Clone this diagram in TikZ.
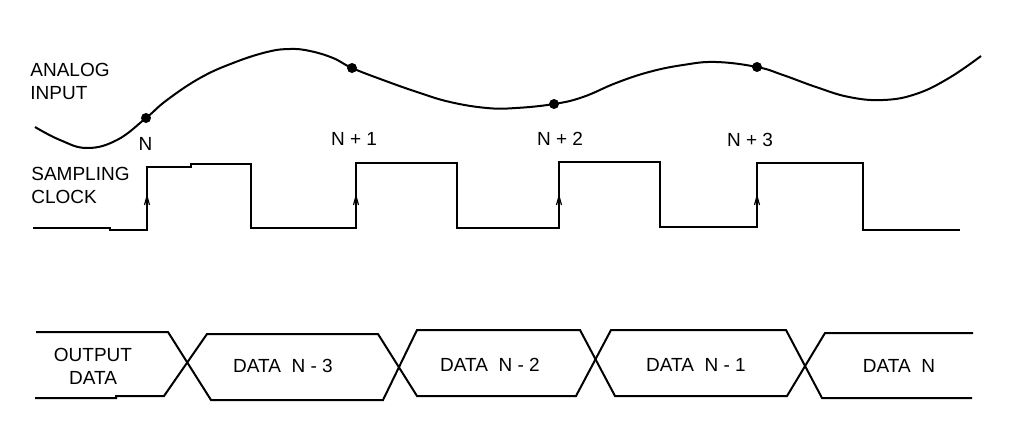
\documentclass[tikz,border=0pt]{standalone}
\usepackage{fontspec}
\setmainfont{Liberation Sans}
\begin{document}
\begin{tikzpicture}[x=0.5pt,y=-0.5pt,
  wave/.style={line width=1pt,line join=miter},
  lbl/.style={inner sep=0pt,font=\fontsize{9.5}{11.5}\selectfont},
  sdot/.style={fill=black,circle,inner sep=0pt,minimum size=5pt},
  edgemark/.style={line width=0.6pt}]
\useasboundingbox (0,0) rectangle (1036,445);
% analog input curve
\draw[wave] plot[smooth,tension=0.7] coordinates {(35,127) (60,140) (87,148) (117,140) (146,118) (167,100) (200,78) (233,63) (267,52) (290,49) (310,51) (333,58) (352,68) (383,80) (417,92) (450,102) (487,108) (516,108) (554,104) (583,97) (616,83) (649,72) (683,65) (716,62) (757,67) (783,75) (816,87) (849,97) (883,100) (916,94) (949,78) (981,56)};
\coordinate (s0) at (146,118);
\coordinate (s1) at (352,68);
\coordinate (s2) at (554,104);
\coordinate (s3) at (757,67);
\foreach \s in {s0,s1,s2,s3} \node[sdot] at (\s) {};
% labels
\node[lbl,anchor=west,align=left] (ain) at (30,81.5) {ANALOG\\INPUT};
\node[lbl,anchor=west,align=left] (sck) at (31,185.5) {SAMPLING\\CLOCK};
\node[lbl] (n0) at (145.5,143.5) {N};
\node[lbl] (n1) at (354,139) {N + 1};
\node[lbl] (n2) at (560,139) {N + 2};
\node[lbl] (n3) at (750,140) {N + 3};
% sampling clock
\draw[wave] (33,228) -- (110,228) -- (110,230) -- (147,230) -- (147,167) -- (191,167) -- (191,164) -- (251,164) -- (251,228)
  -- (356,228) -- (356,163) -- (457,163) -- (457,228) -- (559,228) -- (559,162) -- (660,162) -- (660,227)
  -- (757,227) -- (757,163) -- (863,163) -- (863,230) -- (960,230);
\foreach \x in {147,356,559,757}
  \draw[edgemark] (\x-2.5,205) -- (\x,196) -- (\x+2.5,205);
% output data
\draw[wave] (36,332) -- (168,332) -- (211,400) -- (383,400) -- (417,330) -- (580,330) -- (615,396) -- (787,396) -- (825,333) -- (973,333);
\draw[wave] (35,398) -- (116,398) -- (116,396) -- (164,396) -- (207,334) -- (378,334) -- (417,396) -- (576,396) -- (611,330) -- (786,330) -- (822,398) -- (972,398);
\node[lbl,align=center] (od) at (93,366.5) {OUTPUT\\DATA};
\node[lbl] (d3) at (283,366) {DATA\ \ N - 3};
\node[lbl] (d2) at (490,364.5) {DATA\ \ N - 2};
\node[lbl] (d1) at (696,364.5) {DATA\ \ N - 1};
\node[lbl] (dn) at (899,365.5) {DATA\ \ N};
\end{tikzpicture}
\end{document}
